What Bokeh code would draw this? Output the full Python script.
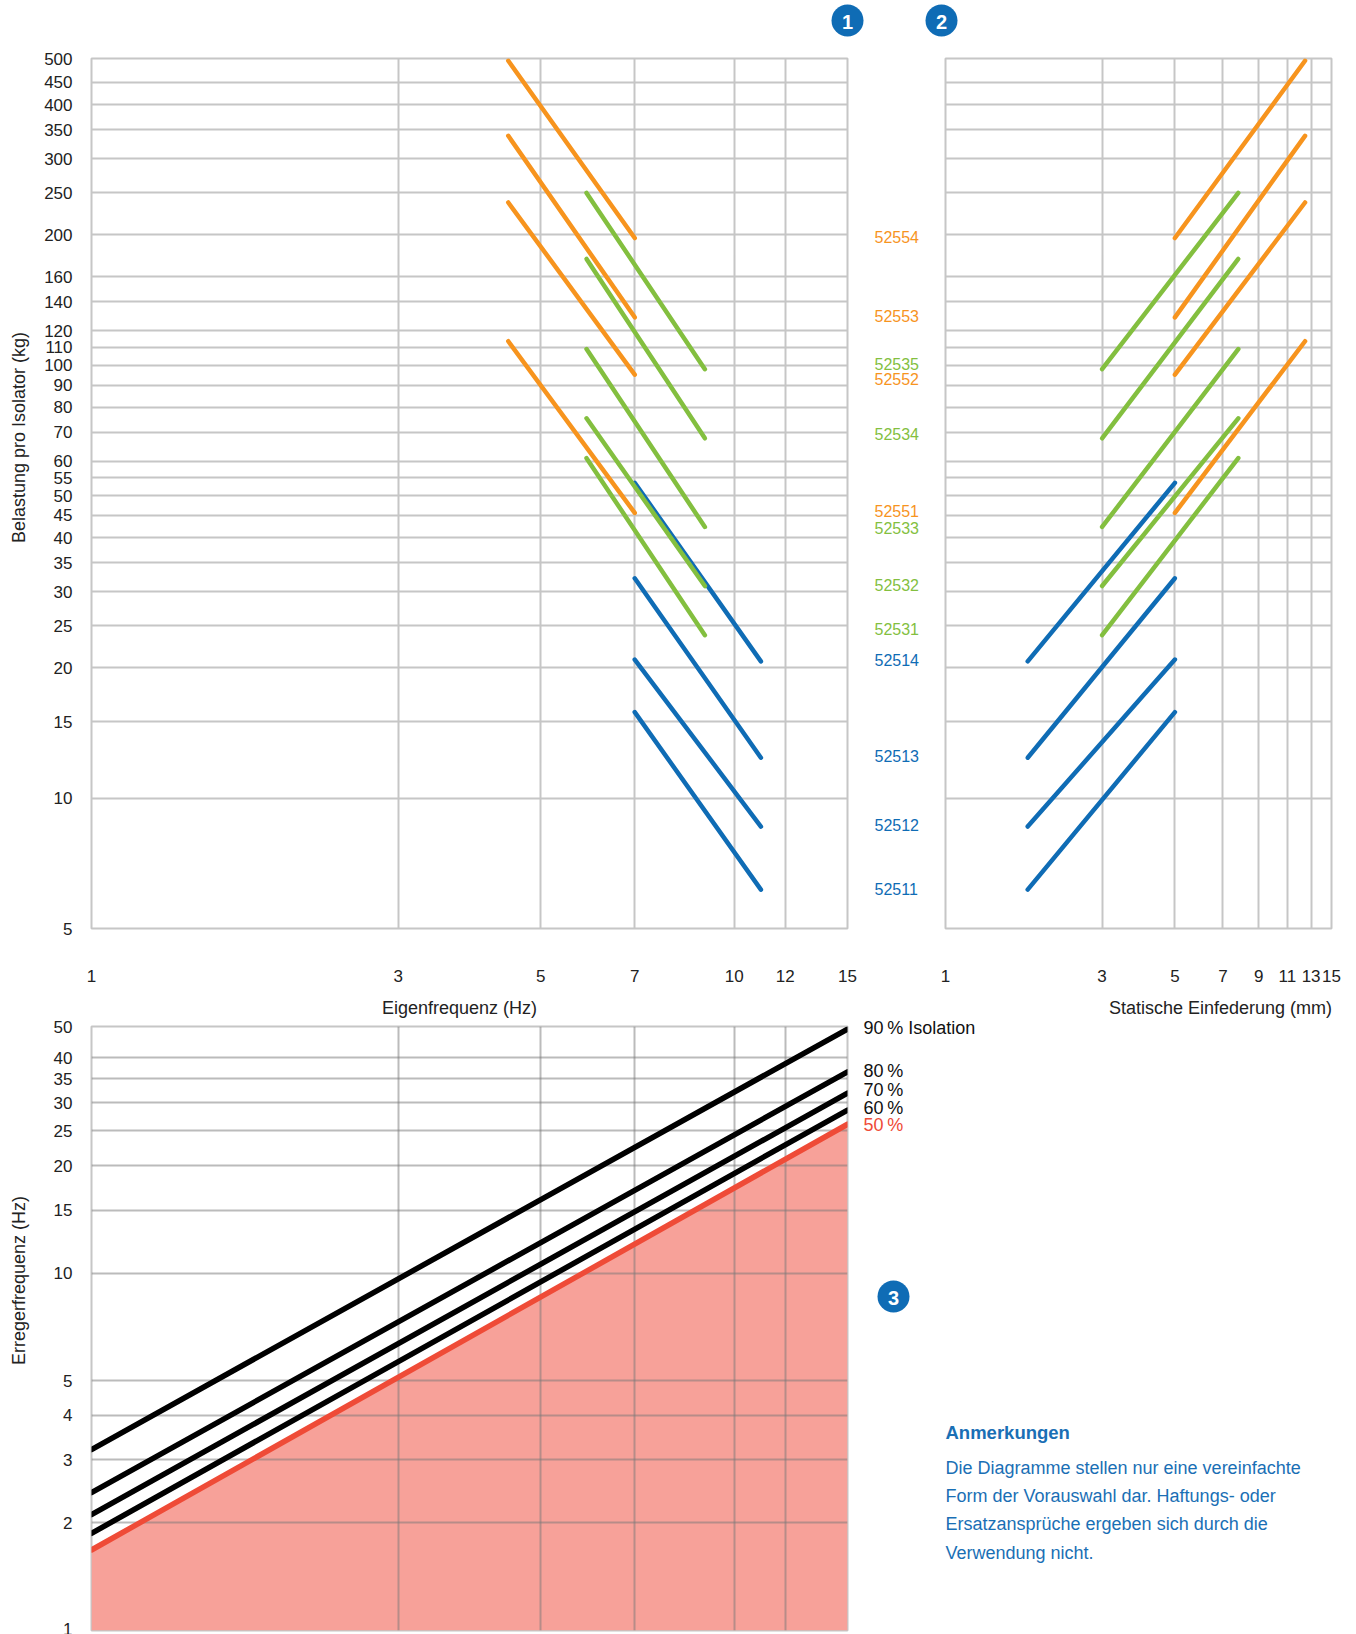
from bokeh.plotting import figure
from bokeh.layouts import column, row
from bokeh.models import FixedTicker
from bokeh.core.properties import value
from bokeh.embed import file_html
from bokeh.resources import INLINE
import math

# ---------- data ----------
load_ticks = [5, 10, 15, 20, 25, 30, 35, 40, 45, 50, 55, 60, 70, 80, 90, 100, 110, 120, 140, 160, 200, 250, 300, 350, 400, 450, 511]
load_labels = ["5", "10", "15", "20", "25", "30", "35", "40", "45", "50", "55", "60", "70", "80", "90", "100", "110", "120", "140", "160", "200", "250", "300", "350", "400", "450", "500"]
freq_ticks = [1, 3, 5, 7, 10, 12, 15]
defl_ticks = [1, 3, 5, 7, 9, 11, 13, 15]
exc_ticks = [1, 2, 3, 4, 5, 10, 15, 20, 25, 30, 35, 40, 49]
exc_labels = ["1", "2", "3", "4", "5", "10", "15", "20", "25", "30", "35", "40", "50"]

blue_names = ["52514", "52513", "52512", "52511"]
blue_high = [53.5, 32.2, 20.9, 15.8]
blue_low = [20.7, 12.4, 8.6, 6.15]
blue_freq = [7, 11]
blue_defl = [1.78, 5]

green_names = ["52535", "52534", "52533", "52532", "52531"]
green_high = [250, 176, 109, 75.4, 61]
green_low = [97.9, 67.8, 42.3, 30.9, 23.8]
green_freq = [5.89, 9]
green_defl = [3, 7.8]

orange_names = ["52554", "52553", "52552", "52551"]
orange_high = [505, 338.7, 237.6, 113.6]
orange_low = [196.7, 129, 95.1, 45.6]
orange_freq = [4.45, 7]
orange_defl = [5, 12.46]

label_names = ["52554", "52553", "52535", "52552", "52534", "52551", "52533", "52532", "52531", "52514", "52513", "52512", "52511"]
label_page_y = [236, 315, 363, 378, 433, 510, 527, 584, 628, 659, 755, 824, 888]

iso_x = [1, 15]
iso_90 = [3.21, 48.2]
iso_80 = [2.43, 36.6]
iso_70 = [2.11, 31.9]
iso_60 = [1.87, 28.6]
iso_50 = [1.68, 26.1]
iso_names = ["90\u2009% Isolation", "80\u2009%", "70\u2009%", "60\u2009%", "50\u2009%"]

note_head = "Anmerkungen"
note_lines = ["Die Diagramme stellen nur eine vereinfachte",
              "Form der Vorauswahl dar. Haftungs- oder",
              "Ersatzansprüche ergeben sich durch die",
              "Verwendung nicht."]

# ---------- style ----------
FONT = "Liberation Sans"
BLUE = "#0f6cb5"; GREEN = "#83bf3f"; ORANGE = "#f7941e"; RED = "#ef4b37"
GRID = "#c6c6c6"; TXT = "#222222"; NOTE = "#1a6fb5"

# page geometry
OX, OY = 0, 0
PW, PH = 1356, 1634
F1L, F1R, F1T, F1B = 91, 847, 58, 928
F2L, F2R = 945, 1331
F3T, F3B = 1026, 1630
SPLIT_X, SPLIT_Y = 924, 1016


def make(w, h, fl, fr, ft, fb, yr, xt, yt, ylabels=None, gridc=GRID, grida=1.0, xvisible=True):
    p = figure(width=w, height=h, x_axis_type="log", y_axis_type="log",
               x_range=(1, 15), y_range=yr, toolbar_location=None, output_backend="svg",
               min_border_left=fl, min_border_right=fr, min_border_top=ft, min_border_bottom=fb,
               background_fill_color="white", border_fill_color="white")
    p.outline_line_color = GRID
    p.outline_line_width = 2
    p.xgrid.ticker = FixedTicker(ticks=xt)
    p.ygrid.ticker = FixedTicker(ticks=yt)
    for g in (p.xgrid, p.ygrid):
        g.grid_line_color = gridc
        g.grid_line_alpha = grida
        g.grid_line_width = 2
        g.minor_grid_line_color = None
    for ax in (p.xaxis[0], p.yaxis[0]):
        ax.axis_line_color = None
        ax.major_tick_line_color = None
        ax.minor_tick_line_color = None
        ax.major_tick_out = 0
        ax.major_tick_in = 0
        ax.minor_tick_out = 0
        ax.minor_tick_in = 0
        ax.major_label_text_font = FONT
        ax.major_label_text_font_size = "17px"
        ax.major_label_text_color = TXT
    p.xaxis[0].ticker = FixedTicker(ticks=xt)
    p.xaxis[0].major_label_overrides = {t: str(t) for t in xt}
    p.xaxis[0].major_label_standoff = 41
    p.xaxis[0].visible = xvisible
    if ylabels is None:
        p.yaxis[0].visible = False
    else:
        p.yaxis[0].ticker = FixedTicker(ticks=yt)
        p.yaxis[0].major_label_overrides = dict(zip(yt, ylabels))
        p.yaxis[0].major_label_standoff = 19
    return p


LR = (5, load_ticks[-1])

p1 = make(SPLIT_X - OX, SPLIT_Y - OY, F1L - OX, SPLIT_X - F1R, F1T - OY, SPLIT_Y - F1B, LR, freq_ticks, load_ticks, load_labels)
p2 = make(PW - SPLIT_X, SPLIT_Y - OY, F2L - SPLIT_X, PW - F2R, F1T - OY, SPLIT_Y - F1B, LR, defl_ticks, load_ticks)

LW = 4.5
for hi, lo in zip(blue_high, blue_low):
    p1.line(blue_freq, [hi, lo], line_color=BLUE, line_width=LW, line_cap="round")
    p2.line(blue_defl, [lo, hi], line_color=BLUE, line_width=LW, line_cap="round")
for hi, lo in zip(orange_high, orange_low):
    p1.line(orange_freq, [hi, lo], line_color=ORANGE, line_width=LW, line_cap="round")
    p2.line(orange_defl, [lo, hi], line_color=ORANGE, line_width=LW, line_cap="round")
for hi, lo in zip(green_high, green_low):
    p1.line(green_freq, [hi, lo], line_color=GREEN, line_width=LW, line_cap="round")
    p2.line(green_defl, [lo, hi], line_color=GREEN, line_width=LW, line_cap="round")

p3 = make(PW - OX, PH - SPLIT_Y, F1L - OX, PW - F1R, F3T - SPLIT_Y, PH - F3B, (1, exc_ticks[-1]),
          freq_ticks, exc_ticks, exc_labels, gridc="#777777", grida=0.5, xvisible=False)
p3.varea(iso_x, [1, 1], iso_50, fill_color="#f7a199", level="underlay")
for s in (iso_90, iso_80, iso_70, iso_60):
    p3.line(iso_x, s, line_color="black", line_width=5.5, line_cap="round")
p3.line(iso_x, iso_50, line_color=RED, line_width=5.5, line_cap="round")

# overlay spanning the page: free texts and numbered badges
ov = figure(width=PW - OX, height=PH - OY, x_range=(OX, PW), y_range=(PH, OY),
            x_axis_location=None, y_axis_location=None, toolbar_location=None, output_backend="svg",
            min_border=0, background_fill_color=None, border_fill_color=None, outline_line_color=None,
            styles={"position": "absolute", "left": "0px", "top": "0px"})
ov.grid.visible = False


def txt(x, y, t, color=TXT, size="18px", align="left", angle=0.0, style="normal"):
    ov.text([x], [y], text=[t], text_font=value(FONT), text_font_size=value(size), text_color=color,
            text_align=align, text_baseline="middle", angle=angle, text_font_style=style)


for name, y in zip(label_names, label_page_y):
    c = BLUE if name in blue_names else GREEN if name in green_names else ORANGE
    txt(874, y, name, color=c, size="16px")

txt(18, 437, "Belastung pro Isolator (kg)", align="center", angle=math.pi / 2)
txt(459, 1007, "Eigenfrequenz (Hz)", align="center")
txt(1220, 1007, "Statische Einfederung (mm)", align="center")
txt(18, 1280, "Erregerfrequenz (Hz)", align="center", angle=math.pi / 2)

for y, t, c in zip([1027, 1070, 1089, 1107, 1124], iso_names, ["#111111"] * 4 + [RED]):
    txt(863, y, t, color=c, size="18px")

txt(945, 1432, note_head, color=NOTE, size="18.5px", style="bold")
for y, t in zip([1467, 1495, 1523, 1552], note_lines):
    txt(945, y, t, color=NOTE, size="18px")

for (x, y, t) in [(847, 20, "1"), (941, 20, "2"), (893, 1296, "3")]:
    ov.scatter([x], [y], marker="circle", size=32, fill_color=BLUE, line_color=None)
    ov.text([x], [y + 1], text=[t], text_font=value(FONT), text_font_size=value("20px"), text_color="white",
            text_align="center", text_baseline="middle", text_font_style="bold")

root = column(row(p1, p2, spacing=0), p3, spacing=0)
open("out.html", "w").write(file_html([root, ov], INLINE))
